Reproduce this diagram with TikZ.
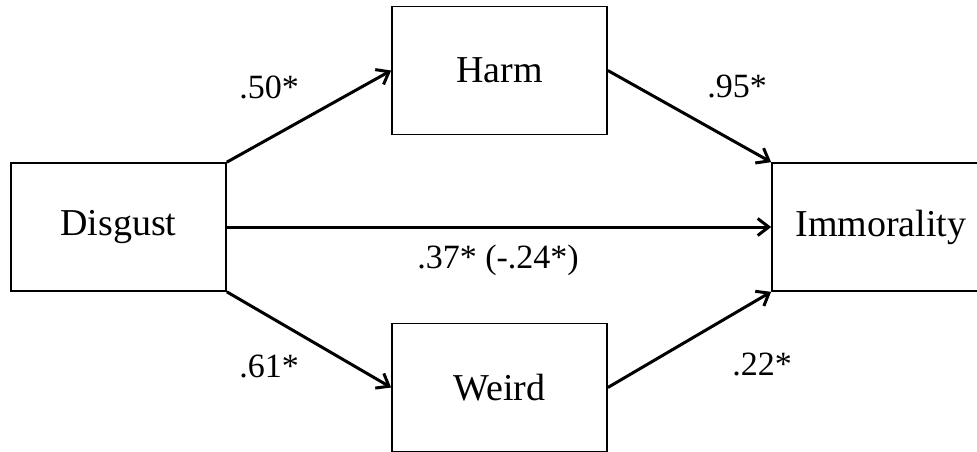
\documentclass[tikz,border=0pt]{standalone}
\usepackage{fontspec}
\setmainfont{Liberation Serif}
\usetikzlibrary{arrows.meta}
\begin{document}
\begin{tikzpicture}[x=1pt, y=-1pt,
  var/.style={draw, line width=1.7pt, inner sep=0pt,
    minimum width=215pt, minimum height=128pt,
    font=\fontsize{38}{44}\selectfont},
  link/.style={line width=3pt,
    -{Straight Barb[length=11pt, width=17pt]}},
  coef/.style={font=\fontsize{34}{38}\selectfont}]
  % picture frame (the right box runs off the edge)
  \clip (0,0) rectangle (977,452);

  % Variables
  \node[var] (disgust) at (118.5,227) {Disgust};
  \node[var] (harm) at (499.5,70.5) {Harm};
  \node[var] (weird) at (499.5,387.5) {Weird};
  \node[var, minimum width=218pt] (immoral) at (881,227) {Immorality};

  % Paths
  \draw[link] (disgust.north east) -- (harm.west);
  \draw[link] (harm.east) -- (immoral.north west);
  \draw[link] (disgust.east) -- (immoral.west);
  \draw[link] (disgust.south east) -- (weird.west);
  \draw[link] (weird.east) -- (immoral.south west);

  % Coefficients
  \node[coef] (a1) at (269,87) {.50*};
  \node[coef] (b1) at (737,86) {.95*};
  \node[coef] (c1) at (498,260) {.37* (-.24*)};
  \node[coef] (a2) at (269,366) {.61*};
  \node[coef] (b2) at (762,364) {.22*};
\end{tikzpicture}
\end{document}
